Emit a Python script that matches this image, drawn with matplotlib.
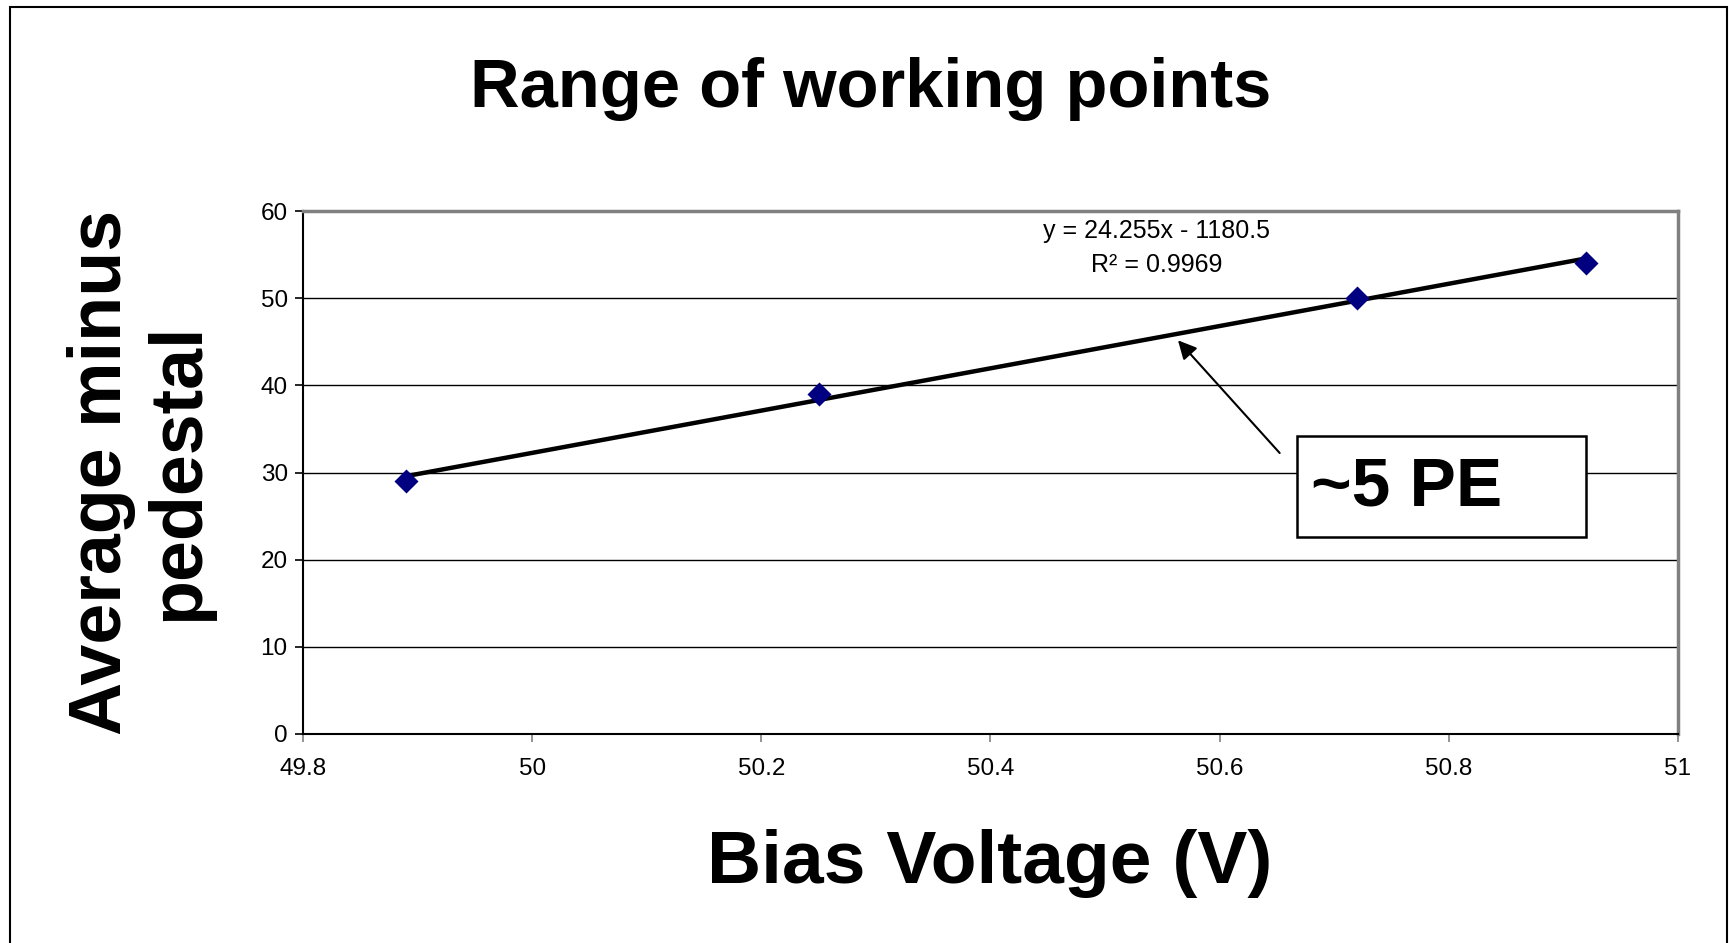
import matplotlib
matplotlib.use("Agg")
import matplotlib.pyplot as plt
from matplotlib.patches import Rectangle
import numpy as np

plt.rcParams['font.family'] = ['Liberation Sans', 'DejaVu Sans']

bias_v = [49.89, 50.25, 50.72, 50.92]
avg_minus_ped = [29, 39, 50, 54]
slope, intercept = 24.255, -1180.5
xticks = [49.8, 50, 50.2, 50.4, 50.6, 50.8, 51]
xticklabels = ["49.8", "50", "50.2", "50.4", "50.6", "50.8", "51"]
yticks = [0, 10, 20, 30, 40, 50, 60]

W, H = 1729, 943
fig = plt.figure(figsize=(W / 100, H / 100), dpi=100)
fig.patch.set_facecolor('white')

# outer border
fig.patches.append(Rectangle((10 / W, -0.05), (1727 - 10) / W, (H - 7) / H + 0.05,
                             transform=fig.transFigure, fill=False, edgecolor='black', lw=1.5))

ax = fig.add_axes([303 / W, 1 - 734 / H, (1678 - 303) / W, (734 - 211) / H])
ax.set_xlim(49.8, 51)
ax.set_ylim(0, 60)
for y in yticks[1:-1]:
    ax.axhline(y, color='black', lw=1.0, zorder=1)

xs = np.array([bias_v[0], bias_v[-1]])
ax.plot(xs, slope * xs + intercept, color='black', lw=3.2, zorder=3, solid_capstyle='butt')
ax.scatter(bias_v, avg_minus_ped, marker='D', s=150, color='#000080', zorder=4, linewidths=0)

ax.spines['top'].set_color('#808080')
ax.spines['right'].set_color('#808080')
ax.spines['top'].set_linewidth(2.5)
ax.spines['right'].set_linewidth(2.5)
ax.spines['left'].set_linewidth(1.5)
ax.spines['bottom'].set_linewidth(1.5)

ax.set_xticks(xticks)
ax.set_xticklabels(xticklabels)
ax.set_yticks(yticks)
ax.tick_params(axis='both', labelsize=17.5, length=6, width=1.2, direction='out', pad=11)
ax.tick_params(axis='x', colors='#808080', labelcolor='black')
ax.tick_params(axis='y', pad=5)

ax.text(50.545, 57.7, "y = 24.255x - 1180.5", ha='center', va='center', fontsize=18)
ax.text(50.545, 53.8, "R\u00b2 = 0.9969", ha='center', va='center', fontsize=18)

ax.annotate("", xy=(50.562, 45.4), xytext=(50.654, 32.0),
            arrowprops=dict(arrowstyle='-|>', color='black', lw=1.5, mutation_scale=28),
            zorder=5)

fig.patches.append(Rectangle((1297 / W, 1 - 537 / H), (1586 - 1297) / W, (537 - 436) / H,
                             transform=fig.transFigure, facecolor='white', edgecolor='black', lw=1.8, zorder=6))
fig.text(1311 / W, 1 - 487 / H, "~5 PE", fontsize=50, fontweight='bold', ha='left', va='center', zorder=7)

fig.text(871 / W, 1 - 89 / H, "Range of working points", fontsize=49.5, fontweight='bold', ha='center', va='center')
fig.text(990 / W, 1 - 863 / H, "Bias Voltage (V)", fontsize=54, fontweight='bold', ha='center', va='center')
fig.text(140 / W, 1 - 472 / H, "Average minus\npedestal", fontsize=53, fontweight='bold', ha='center', va='center',
         rotation=90, linespacing=1.15, multialignment='center')

fig.savefig("out.png", dpi=100)
